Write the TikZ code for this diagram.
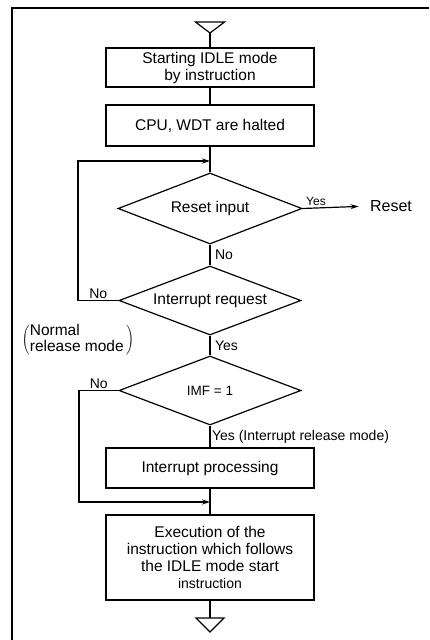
\documentclass[tikz,border=0pt]{standalone}
\usepackage{fontspec}
\setmainfont{Liberation Sans}
\usetikzlibrary{shapes.geometric}
\usetikzlibrary{arrows.meta}

\begin{document}
\begin{tikzpicture}[x=1pt,y=-1pt,>={Stealth[length=8pt,width=5pt]},line width=1.2pt,
    procbox/.style={draw,rectangle,minimum width=208pt,align=center,inner sep=1pt,
        font=\fontsize{15.5}{17}\selectfont},
    testbox/.style={draw,diamond,aspect=2.6,inner sep=0pt,minimum width=182pt,minimum height=69pt,
        font=\fontsize{15.5}{17}\selectfont},
    lbl/.style={inner sep=1.5pt,font=\fontsize{14}{16}\selectfont}]
    \useasboundingbox (0,0) rectangle (429,640);
    % frame
    \draw[line width=1.3pt] (12,640) -- (12,8) -- (429,8);
    % entry and exit marks
    \coordinate (entry) at (210,33);
    \coordinate (exit) at (210,618);
    \draw (195.5,22) -- (224.5,22) -- (entry) -- cycle;
    \draw (exit) -- (196,618) -- (210,632) -- (224,618) -- cycle;
    % steps
    \node[procbox,minimum height=39pt] (start) at (210,67.5) {Starting IDLE mode\\by instruction};
    \node[procbox,minimum height=41pt] (halt) at (210,125.5) {CPU, WDT are halted};
    \node[testbox,minimum width=184pt,minimum height=71pt] (rst) at (210,208.5) {Reset input};
    \node[testbox] (irq) at (210,300.5) {Interrupt request};
    \node[testbox,font=\fontsize{13.5}{15}\selectfont] (imf) at (210,390.5) {IMF = 1};
    \node[procbox,minimum height=40pt] (isr) at (210,468) {Interrupt processing};
    \node[procbox,minimum height=85pt] (exec) at (210,557.5)
        {Execution of the\\instruction which follows\\the IDLE mode start\\
         {\fontsize{14}{17}\selectfont instruction}};
    \node[inner sep=0pt,font=\fontsize{16}{18}\selectfont] (reset) at (391,206) {Reset};
    \node[inner sep=0pt,font=\fontsize{15.5}{16}\selectfont] (normal) at (78,340)
        {$\left(\mbox{\begin{tabular}{@{}l@{}}Normal\\release mode\end{tabular}}\,\right)$};
    % junctions and loop corners
    \coordinate (j1) at (210,161);
    \coordinate (j2) at (210,502);
    \coordinate (loopa) at (78,300.5);
    \coordinate (loopb) at (79,390.5);
    % connectors
    \draw (entry) -- (start);
    \draw (start) -- (halt);
    \draw (halt) -- (rst);
    \draw[->,shorten >=11pt] (rst.east) -- node[lbl,above,font=\fontsize{12}{13}\selectfont,pos=0.2] {Yes} (reset.west);
    \draw (rst) -- node[lbl,right,xshift=3pt] {No} (irq);
    \draw[->] (irq.west) -- node[lbl,above,pos=0.5] {No} (loopa) |- (j1);
    \draw (irq) -- node[lbl,right,xshift=3pt] {Yes} (imf);
    \draw (imf) -- node[lbl,right,xshift=0pt] {Yes (Interrupt release mode)} (isr);
    \draw[->] (imf.west) -- node[lbl,above,pos=0.5] {No} (loopb) |- (j2);
    \draw (isr) -- (exec);
    \draw (exec) -- (exit);
\end{tikzpicture}
\end{document}
